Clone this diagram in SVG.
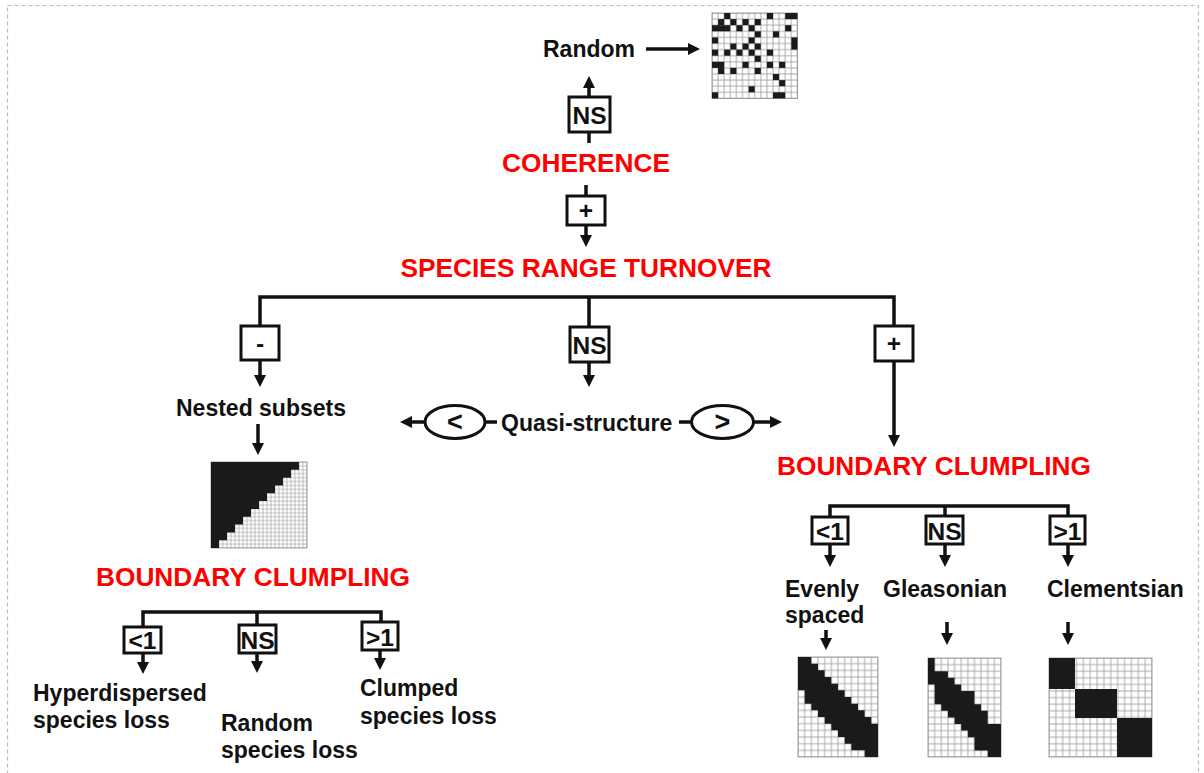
<svg xmlns="http://www.w3.org/2000/svg" width="1204" height="773" viewBox="0 0 1204 773">
<style>
.t{font-family:"Liberation Sans",Arial,sans-serif;font-weight:bold;font-size:23px;fill:#111}
.h{font-family:"Liberation Sans",Arial,sans-serif;font-weight:bold;font-size:26.3px;fill:#ff0000}
.b{font-family:"Liberation Sans",Arial,sans-serif;font-weight:bold;font-size:24.5px;fill:#111;text-anchor:middle}
.e{font-family:"Liberation Sans",Arial,sans-serif;font-weight:bold;font-size:27px;fill:#111;text-anchor:middle}
.box{fill:#fff;stroke:#111;stroke-width:3}
.ln{fill:none;stroke:#111;stroke-width:3.5}
.ar{fill:none;stroke:#111;stroke-width:3.5;marker-end:url(#ah)}
.blk{fill:#1a1a1a}
.mx{stroke:#888;stroke-width:0.8}
</style>
<defs>
<marker id="ah" markerUnits="userSpaceOnUse" markerWidth="13" markerHeight="12" refX="0" refY="6" orient="auto" overflow="visible">
<path d="M0,0 L12,6 L0,12 Z" fill="#111"/>
</marker>
<pattern id="g61" patternUnits="userSpaceOnUse" width="6.1" height="6.1"><rect width="6.1" height="6.1" fill="#fff" stroke="#999" stroke-width="0.8"/></pattern>
<pattern id="g4" patternUnits="userSpaceOnUse" width="4" height="3.909"><rect width="4" height="3.909" fill="#fff" stroke="#999" stroke-width="0.6"/></pattern>
<pattern id="g667" patternUnits="userSpaceOnUse" width="6.667" height="6.667"><rect width="6.667" height="6.667" fill="#fff" stroke="#999" stroke-width="0.8"/></pattern>
<pattern id="g66" patternUnits="userSpaceOnUse" width="6.636" height="6.6"><rect width="6.636" height="6.6" fill="#fff" stroke="#999" stroke-width="0.8"/></pattern>
<pattern id="g687" patternUnits="userSpaceOnUse" width="6.867" height="6.6"><rect width="6.867" height="6.6" fill="#fff" stroke="#999" stroke-width="0.8"/></pattern>
</defs>
<rect x="0" y="0" width="1204" height="773" fill="#fff"/>
<rect x="7.5" y="5.5" width="1191" height="800" fill="none" stroke="#bbb" stroke-width="1.2" stroke-dasharray="4,3"/>

<g id="connectors">
<line class="ar" x1="646" y1="49" x2="688" y2="49"/>
<line class="ar" x1="589" y1="98" x2="589" y2="88"/>
<line class="ln" x1="589" y1="132" x2="589" y2="143"/>
<line class="ln" x1="586" y1="185" x2="586" y2="196"/>
<line class="ar" x1="586" y1="225" x2="586" y2="235"/>
<polyline class="ln" points="260,326 260,297 894,297 894,326"/>
<line class="ln" x1="589" y1="297" x2="589" y2="327"/>
<line class="ar" x1="260" y1="360" x2="260" y2="375"/>
<line class="ar" x1="589" y1="362" x2="589" y2="375"/>
<line class="ar" x1="894" y1="361" x2="894" y2="435"/>
<line class="ar" x1="258" y1="424" x2="258" y2="443"/>
<line class="ar" x1="425" y1="422" x2="412" y2="422"/>
<line class="ln" x1="485" y1="422" x2="497" y2="422"/>
<line class="ln" x1="679" y1="422" x2="692" y2="422"/>
<line class="ar" x1="753" y1="422" x2="770" y2="422"/>
<polyline class="ln" points="830,517 830,506 1068,506 1068,516"/>
<line class="ln" x1="945" y1="506" x2="945" y2="516"/>
<line class="ar" x1="830" y1="544" x2="830" y2="555"/>
<line class="ar" x1="945" y1="544" x2="945" y2="555"/>
<line class="ar" x1="1068" y1="544" x2="1068" y2="555"/>
<line class="ar" x1="826" y1="630" x2="826" y2="638"/>
<line class="ar" x1="947" y1="622" x2="947" y2="633"/>
<line class="ar" x1="1068" y1="622" x2="1068" y2="633"/>
<polyline class="ln" points="143,627 143,612 381,612 381,622"/>
<line class="ln" x1="257" y1="612" x2="257" y2="625"/>
<line class="ar" x1="143" y1="653" x2="143" y2="662"/>
<line class="ar" x1="257" y1="653" x2="257" y2="661"/>
<line class="ar" x1="380" y1="650" x2="380" y2="658"/>
</g>

<g id="random-label"><text class="t" x="543" y="57">Random</text></g>

<g id="random-matrix" transform="translate(712,13)">
<rect width="85.4" height="85.4" fill="url(#g61)" class="mx"/>
<g class="blk">
<rect x="12.2" y="0" width="6.1" height="6.1"/><rect x="54.9" y="0" width="6.1" height="6.1"/><rect x="73.2" y="0" width="12.2" height="6.1"/>
<rect x="6.1" y="6.1" width="6.1" height="6.1"/><rect x="18.3" y="6.1" width="6.1" height="6.1"/><rect x="30.5" y="6.1" width="6.1" height="6.1"/><rect x="42.7" y="6.1" width="6.1" height="6.1"/>
<rect x="0" y="12.2" width="18.3" height="6.1"/><rect x="24.4" y="12.2" width="6.1" height="6.1"/><rect x="36.6" y="12.2" width="6.1" height="6.1"/><rect x="73.2" y="12.2" width="6.1" height="6.1"/>
<rect x="42.7" y="18.3" width="6.1" height="6.1"/><rect x="61" y="18.3" width="6.1" height="6.1"/>
<rect x="0" y="24.4" width="6.1" height="6.1"/><rect x="36.6" y="24.4" width="6.1" height="6.1"/><rect x="79.3" y="24.4" width="6.1" height="12.2"/>
<rect x="18.3" y="30.5" width="6.1" height="6.1"/><rect x="30.5" y="30.5" width="6.1" height="6.1"/><rect x="42.7" y="30.5" width="6.1" height="6.1"/>
<rect x="0" y="36.6" width="6.1" height="6.1"/><rect x="12.2" y="36.6" width="6.1" height="6.1"/><rect x="24.4" y="36.6" width="6.1" height="6.1"/><rect x="36.6" y="36.6" width="6.1" height="6.1"/><rect x="54.9" y="36.6" width="6.1" height="6.1"/>
<rect x="42.7" y="42.7" width="6.1" height="6.1"/>
<rect x="0" y="48.8" width="12.2" height="6.1"/><rect x="30.5" y="48.8" width="6.1" height="6.1"/><rect x="54.9" y="48.8" width="6.1" height="6.1"/><rect x="67.1" y="48.8" width="6.1" height="6.1"/>
<rect x="6.1" y="54.9" width="6.1" height="6.1"/><rect x="18.3" y="54.9" width="6.1" height="6.1"/><rect x="42.7" y="54.9" width="6.1" height="6.1"/>
<rect x="61" y="61" width="6.1" height="6.1"/>
<rect x="67.1" y="67.1" width="6.1" height="6.1"/>
<rect x="36.6" y="73.2" width="6.1" height="6.1"/>
<rect x="0" y="79.3" width="6.1" height="6.1"/><rect x="61" y="79.3" width="12.2" height="6.1"/>
</g>
</g>

<g id="ns-top"><rect class="box" x="569" y="97" width="41" height="35"/><text class="b" x="589.5" y="123.5">NS</text></g>
<g id="coherence"><text class="h" x="586" y="172" text-anchor="middle">COHERENCE</text></g>
<g id="plus-top"><rect class="box" x="567" y="196" width="38" height="29"/><text class="b" x="586" y="219">+</text></g>
<g id="species-range-turnover"><text class="h" x="586" y="277" text-anchor="middle">SPECIES RANGE TURNOVER</text></g>

<g id="minus-box"><rect class="box" x="241" y="326" width="38" height="34"/><text class="b" x="260" y="352">-</text></g>
<g id="ns-mid"><rect class="box" x="570" y="327" width="39" height="35"/><text class="b" x="589.5" y="353.5">NS</text></g>
<g id="plus-right"><rect class="box" x="875" y="326" width="38" height="35"/><text class="b" x="894" y="352">+</text></g>

<g id="nested-subsets"><text class="t" x="261" y="416" text-anchor="middle">Nested subsets</text></g>
<g id="nested-matrix" transform="translate(211,462)">
<rect width="96" height="86" fill="url(#g4)" class="mx"/>
<path class="blk" d="M0,0 h88 v7.82 h-8 v7.82 h-8 v7.82 h-8 v7.82 h-8 v7.82 h-8 v7.82 h-8 v7.82 h-8 v7.82 h-8 v7.82 h-8 v7.82 h-8 V86 H0 Z"/>
</g>

<g id="lt-ellipse"><ellipse cx="455" cy="422" rx="30" ry="16.5" fill="#fff" stroke="#111" stroke-width="3"/><text class="e" x="455" y="431">&lt;</text></g>
<g id="quasi-structure"><text class="t" x="501" y="431">Quasi-structure</text></g>
<g id="gt-ellipse"><ellipse cx="722.5" cy="422" rx="31" ry="16.5" fill="#fff" stroke="#111" stroke-width="3"/><text class="e" x="722.5" y="431">&gt;</text></g>

<g id="boundary-clumpling-right"><text class="h" x="934" y="475" text-anchor="middle">BOUNDARY CLUMPLING</text></g>
<g id="r-lt1"><rect class="box" x="812" y="517" width="36" height="27"/><text class="b" x="830" y="539.5">&lt;1</text></g>
<g id="r-ns"><rect class="box" x="926" y="516" width="37" height="28"/><text class="b" x="944.5" y="539.5">NS</text></g>
<g id="r-gt1"><rect class="box" x="1050" y="516" width="35" height="28"/><text class="b" x="1067.5" y="539.5">&gt;1</text></g>

<g id="evenly-spaced"><text class="t" x="785" y="597">Evenly</text><text class="t" x="785" y="623">spaced</text></g>
<g id="gleasonian"><text class="t" x="883" y="597">Gleasonian</text></g>
<g id="clementsian"><text class="t" x="1047" y="597">Clementsian</text></g>

<g id="even-matrix" transform="translate(798,657)">
<rect width="80" height="100" fill="url(#g667)" class="mx"/>
<path class="blk" d="M0,0 H13.33 V6.67 H20 V13.33 H26.67 V20 H33.33 V26.67 H40 V33.33 H46.67 V40 H53.33 V46.67 H60 V53.33 H66.67 V60 H73.33 V66.67 H80 V100 H66.67 V93.33 H53.33 V86.67 H46.67 V80 H40 V73.33 H33.33 V66.67 H26.67 V60 H20 V53.33 H13.33 V46.67 H6.67 V33.33 H0 Z"/>
</g>

<g id="gleason-matrix" transform="translate(928,658)">
<rect width="73" height="99" fill="url(#g66)" class="mx"/>
<path class="blk" d="M0,0 H6.64 V13.2 H19.91 V19.8 H26.55 V26.4 H33.18 V33 H46.45 V46.2 H53.09 V52.8 H59.73 V66 H73 V99 H59.73 V92.4 H46.45 V79.2 H39.82 V72.6 H33.18 V66 H26.55 V59.4 H19.91 V52.8 H13.27 V46.2 H6.64 V26.4 H0 Z"/>
</g>

<g id="clement-matrix" transform="translate(1049,658)">
<rect width="103" height="99" fill="url(#g687)" class="mx"/>
<g class="blk">
<rect x="0" y="0" width="26" height="31"/>
<rect x="26" y="31" width="42" height="29"/>
<rect x="68" y="60" width="35" height="39"/>
</g>
</g>

<g id="boundary-clumpling-left"><text class="h" x="253" y="586" text-anchor="middle">BOUNDARY CLUMPLING</text></g>
<g id="l-lt1"><rect class="box" x="124" y="627" width="37" height="26"/><text class="b" x="142.5" y="648.5">&lt;1</text></g>
<g id="l-ns"><rect class="box" x="239" y="625" width="37" height="28"/><text class="b" x="257.5" y="648.5">NS</text></g>
<g id="l-gt1"><rect class="box" x="362" y="622" width="36" height="28"/><text class="b" x="380" y="645.5">&gt;1</text></g>

<g id="hyperdispersed"><text class="t" x="33" y="701">Hyperdispersed</text><text class="t" x="33" y="728">species loss</text></g>
<g id="random-loss"><text class="t" x="221" y="731">Random</text><text class="t" x="221" y="758">species loss</text></g>
<g id="clumped"><text class="t" x="360" y="696">Clumped</text><text class="t" x="360" y="724">species loss</text></g>
</svg>
